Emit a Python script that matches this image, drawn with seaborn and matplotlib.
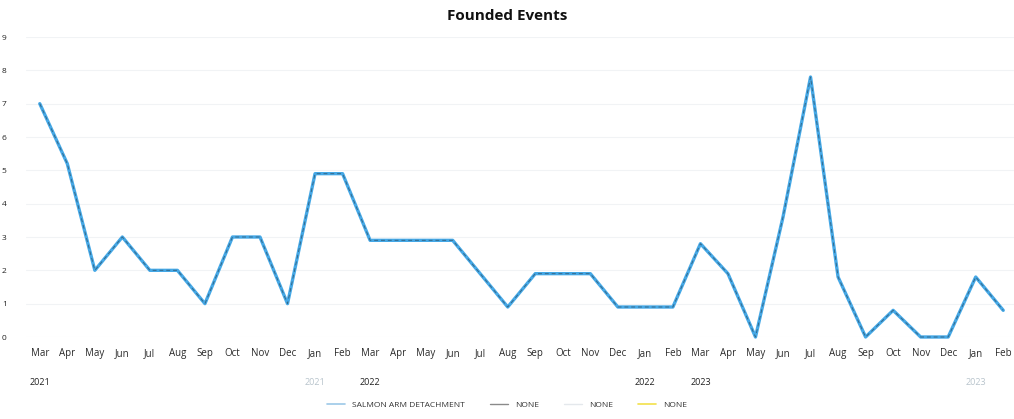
import pandas as pd
import matplotlib.pyplot as plt
import seaborn as sns
from matplotlib.lines import Line2D

sns.set_theme(style="white")
plt.rcParams['font.family'] = ['Open Sans', 'DejaVu Sans']

# ============================
# Data
# ============================
months = ['Mar', 'Apr', 'May', 'Jun', 'Jul', 'Aug', 'Sep', 'Oct', 'Nov', 'Dec', 'Jan', 'Feb',
          'Mar', 'Apr', 'May', 'Jun', 'Jul', 'Aug', 'Sep', 'Oct', 'Nov', 'Dec', 'Jan', 'Feb',
          'Mar', 'Apr', 'May', 'Jun', 'Jul', 'Aug', 'Sep', 'Oct', 'Nov', 'Dec', 'Jan', 'Feb']
year_labels = ['2021', '2021', '2022', '2022', '2023', '2023']
year_positions = [0, 10, 12, 22, 24, 34]
year_colors = ['#222222', '#b8c4cc', '#222222', '#222222', '#222222', '#b8c4cc']

salmon_arm = [7.0, 5.2, 2.0, 3.0, 2.0, 2.0, 1.0, 3.0, 3.0, 1.0, 4.9, 4.9,
              2.9, 2.9, 2.9, 2.9, 1.9, 0.9, 1.9, 1.9, 1.9, 0.9, 0.9, 0.9,
              2.8, 1.9, 0.0, 3.6, 7.8, 1.8, 0.0, 0.8, 0.0, 0.0, 1.8, 0.8]
none_1 = salmon_arm  # the dark "NONE" series sits right on top of the blue one

df = pd.DataFrame({'idx': range(len(months)), 'salmon': salmon_arm, 'none': none_1})

# ============================
# Plot
# ============================
fig = plt.figure(figsize=(10.14, 4.19), dpi=100)
ax = fig.add_axes([26 / 1014, 82 / 419, 991 / 1014, 300 / 419])

sns.lineplot(x='idx', y='salmon', data=df, ax=ax, color='#45a8e6', linewidth=2.4, clip_on=False)
sns.lineplot(x='idx', y='none', data=df, ax=ax, color='#1e1e1e', linewidth=0.7, alpha=0.45,
             linestyle=(0, (4, 3)), clip_on=False)

ax.set_xlim(-0.5, 35.5)
ax.set_ylim(0, 9)
ax.set_yticks(range(10))
ax.set_yticklabels([str(i) for i in range(10)], fontsize=6, color='#222222')
ax.tick_params(axis='y', pad=14, length=0)
ax.set_xticks(range(len(months)))
ax.set_xticklabels(months, fontsize=7, color='#2a2a2a')
ax.tick_params(axis='x', pad=8, length=0)
ax.set_xlabel('')
ax.set_ylabel('')
ax.yaxis.grid(True, color='#f1f3f5', linewidth=0.8)
for s in ax.spines.values():
    s.set_visible(False)

# year row under the months
for pos, lab, col in zip(year_positions, year_labels, year_colors):
    ax.text(pos, -1.35, lab, ha='center', va='center', fontsize=6.5, color=col)

fig.text(0.5, 0.963, 'Founded Events', ha='center', va='center', fontsize=11,
         fontweight='bold', color='#111111')

handles = [Line2D([], [], color='#9cc8e8', lw=1.2),
           Line2D([], [], color='#8a8a8a', lw=1.0),
           Line2D([], [], color='#e4e8ec', lw=1.0),
           Line2D([], [], color='#f2e04a', lw=1.2)]
fig.legend(handles, ['SALMON ARM DETACHMENT', 'NONE', 'NONE', 'NONE'],
           loc='center', bbox_to_anchor=(0.5, 0.033), ncol=4, frameon=False,
           fontsize=6, handlelength=2.2, columnspacing=3.0,
           labelcolor='#333333')

plt.savefig('out.png', dpi=100)
